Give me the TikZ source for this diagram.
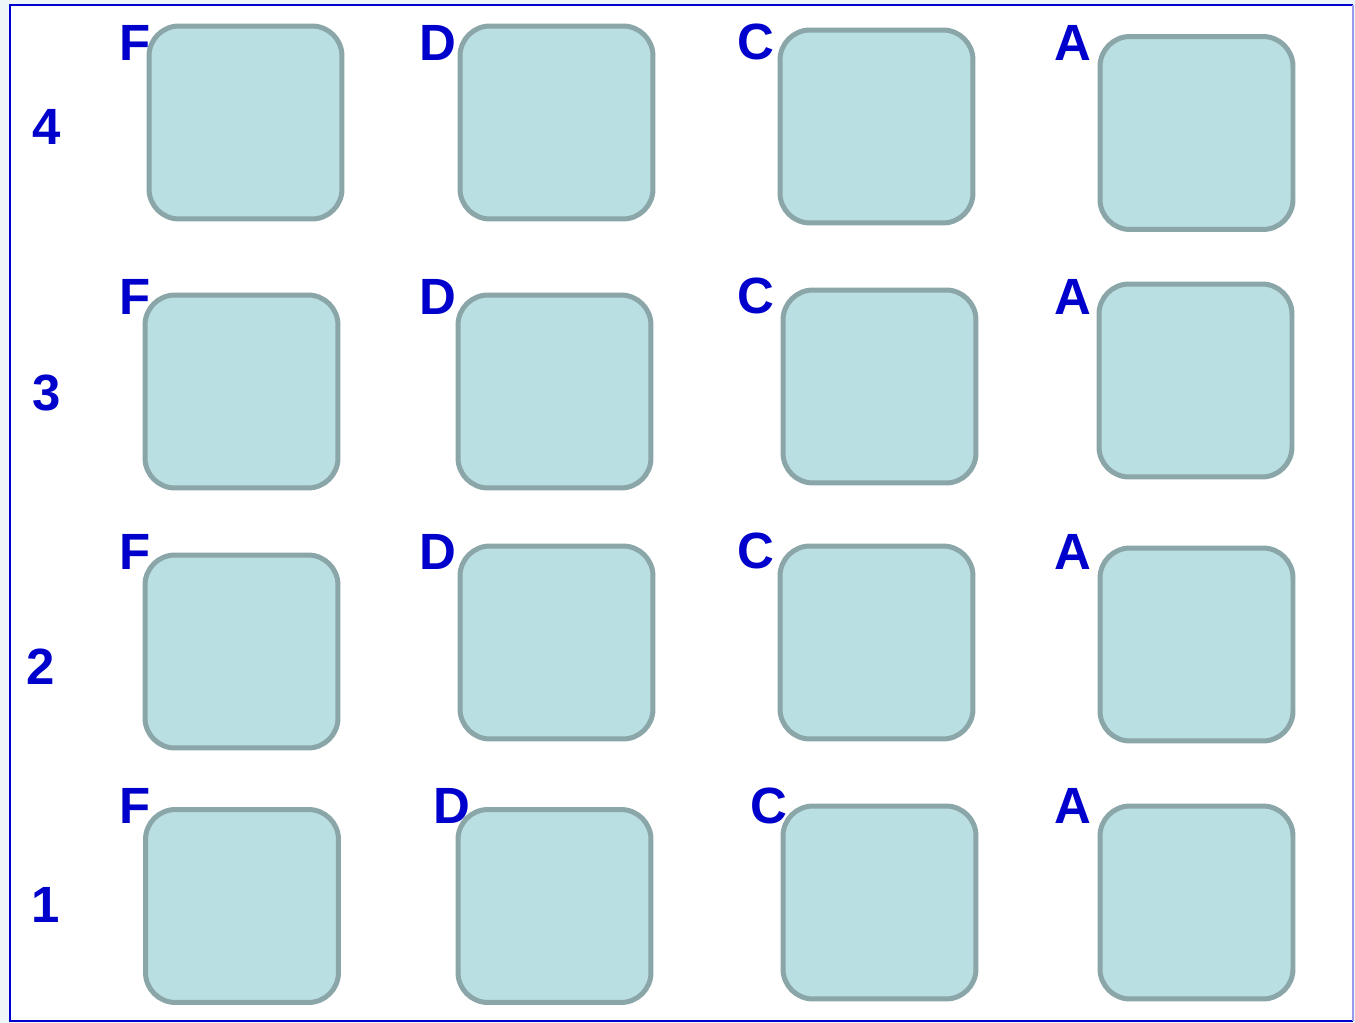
\documentclass[tikz,border=0pt]{standalone}
\usepackage{fontspec}
\setmainfont{Liberation Sans}
\usetikzlibrary{positioning}

\definecolor{tilefill}{HTML}{BADFE2}
\definecolor{tileline}{HTML}{8AA6A8}
\definecolor{lblblue}{HTML}{0000CC}
\definecolor{paleback}{HTML}{EEF6F8}

\begin{document}
\begin{tikzpicture}[
    x=0.02cm, y=-0.02cm,
    tile/.style={draw=tileline, fill=tilefill, line width=0.1cm,
                 rounded corners=0.6cm, minimum width=3.86cm,
                 minimum height=3.86cm, inner sep=0pt},
    lab/.style={inner sep=0pt, text=lblblue,
                font=\fontsize{29}{29}\selectfont\bfseries},
  ]

  %% ---- frame ---------------------------------------------------------
  \useasboundingbox (0,0) rectangle (1355,1023);
  \fill[paleback] (0,0) rectangle (1355,1023);
  \fill[white] (10,5) rectangle (1353,1021);
  \draw[lblblue, line width=0.05cm] (1353,5) -- (10,5) -- (10,1021) -- (1353,1021);
  \draw[lblblue!40, line width=0.05cm] (1353,5) -- (1353,1021);

  %% ---- row 4 ---------------------------------------------------------
  \node[lab] (r4) at (47,127) {4};
  \node[tile] (f4) at ( 245.5,122.5) {};
  \node[tile] (d4) at ( 556.5,122.5) {};
  \node[tile] (c4) at ( 876.5,126.5) {};
  \node[tile] (a4) at (1196.5,133) {};
  \node[lab] (lf4) at ( 135,43) {F};
  \node[lab] (ld4) at ( 438,43) {D};
  \node[lab] (lc4) at ( 756,42) {C};
  \node[lab] (la4) at (1073,43) {A};

  %% ---- row 3 ---------------------------------------------------------
  \node[lab] (r3) at (47,393) {3};
  \node[tile] (f3) at ( 241.5,391.5) {};
  \node[tile] (d3) at ( 554.5,391.5) {};
  \node[tile] (c3) at ( 879.5,386.5) {};
  \node[tile] (a3) at (1195.5,380.5) {};
  \node[lab] (lf3) at ( 135,297) {F};
  \node[lab] (ld3) at ( 438,297) {D};
  \node[lab] (lc3) at ( 756,296) {C};
  \node[lab] (la3) at (1073,297) {A};

  %% ---- row 2 ---------------------------------------------------------
  \node[lab] (r2) at (41,667) {2};
  \node[tile] (f2) at ( 241.5,651.5) {};
  \node[tile] (d2) at ( 556.5,642.5) {};
  \node[tile] (c2) at ( 876.5,642.5) {};
  \node[tile] (a2) at (1196.5,644.5) {};
  \node[lab] (lf2) at ( 135,552) {F};
  \node[lab] (ld2) at ( 438,552) {D};
  \node[lab] (lc2) at ( 756,551) {C};
  \node[lab] (la2) at (1073,552) {A};

  %% ---- row 1 ---------------------------------------------------------
  \node[lab] (r1) at (46,905) {1};
  \node[tile] (f1) at ( 242,906) {};
  \node[tile] (d1) at ( 554.5,906) {};
  \node[tile] (c1) at ( 879.5,902.5) {};
  \node[tile] (a1) at (1196.5,902.5) {};
  \node[lab] (lf1) at ( 135,806) {F};
  \node[lab] (ld1) at ( 452,806) {D};
  \node[lab] (lc1) at ( 769,806) {C};
  \node[lab] (la1) at (1073,806) {A};

\end{tikzpicture}
\end{document}
